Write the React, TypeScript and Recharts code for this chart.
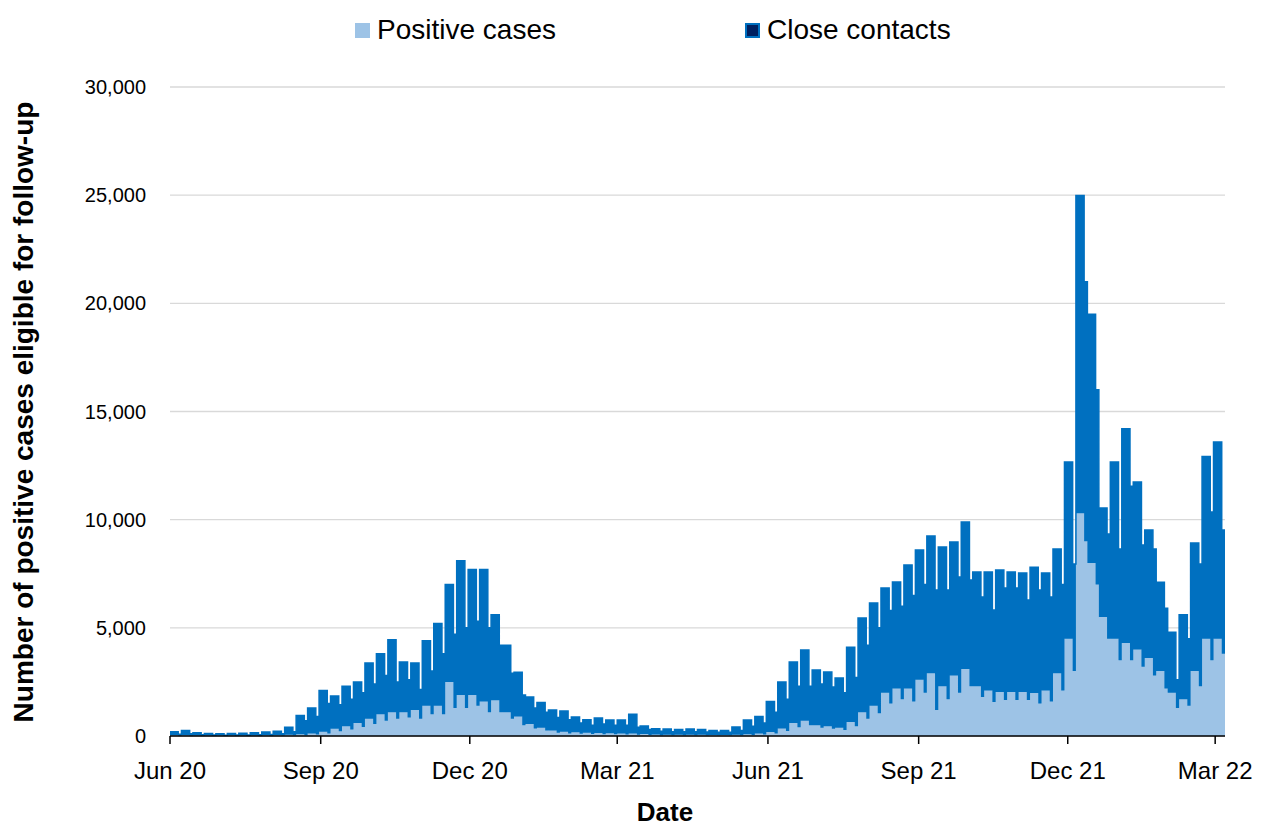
import React from "react";
import { AreaChart, Area, XAxis, YAxis, CartesianGrid, Label } from "recharts";

// Weekly readings (week 0 = week starting Mon 1 Jun 2020).
// "Weekday" = Mon–Fri level, "Weekend" = Sat–Sun level.
const POSITIVE_WEEKDAY = [
  30, 30, 20, 20, 20, 20, 20, 20, 30, 40,
  60, 80, 120, 200, 330, 450, 600, 800, 1000, 1100,
  1100, 1200, 1400, 1400, 2500, 1900, 1900, 1600, 1650, 1100,
  900, 550, 380, 250, 200, 170, 150, 140, 130, 120,
  110, 90, 70, 60, 60, 60, 60, 50, 50, 60,
  80, 120, 180, 350, 600, 700, 500, 450, 380, 650,
  1100, 1400, 2000, 2200, 2200, 2600, 2900, 2300, 2800, 3100,
  2300, 2100, 2030, 2030, 2030, 1990, 2100, 2900, 4500, 10300,
  8000, 5500, 4500, 4300, 4000, 3600, 3000, 2000, 1700, 3000,
  4500, 4500,
];
const POSITIVE_WEEKEND = [
  10, 10, 10, 10, 10, 10, 10, 10, 10, 20,
  30, 40, 70, 120, 220, 300, 420, 550, 700, 800,
  850, 800, 1000, 1000, 1300, 1300, 1400, 1100, 1100, 800,
  500, 350, 250, 150, 120, 100, 90, 80, 80, 70,
  60, 50, 40, 40, 40, 40, 40, 30, 30, 40,
  50, 70, 120, 230, 400, 500, 380, 330, 280, 450,
  800, 1050, 1500, 1700, 1600, 2000, 1200, 1700, 2000, 2300,
  1800, 1570, 1660, 1660, 1660, 1500, 1600, 2100, 3000, 9000,
  7000, 4500, 3500, 3500, 3200, 2800, 2200, 1300, 1400, 2300,
  3500, 3800,
];
const CONTACTS_WEEKDAY = [
  170, 220, 130, 100, 80, 100, 110, 130, 150, 180,
  340, 870, 1180, 1900, 1520, 1850, 1900, 2570, 2800, 3350,
  2320, 2170, 3000, 3800, 4500, 6200, 5800, 6100, 3950, 3100,
  2050, 1250, 1170, 950, 950, 710, 600, 690, 610, 620,
  890, 370, 260, 260, 240, 260, 240, 200, 200, 360,
  660, 780, 1420, 2150, 2820, 3270, 2550, 2510, 2300, 3450,
  4350, 4750, 4840, 4920, 5700, 6000, 6340, 6440, 6170, 6790,
  5280, 5480, 5640, 5550, 5500, 5810, 5430, 5740, 8160, 14680,
  11500, 5040, 8160, 9900, 7740, 5920, 4110, 2800, 3900, 5920,
  8420, 9090,
];
const CONTACTS_WEEKEND = [
  70, 90, 50, 40, 30, 40, 40, 50, 60, 80,
  170, 660, 830, 1380, 1230, 1400, 1580, 1850, 2100, 1700,
  1750, 1350, 2000, 2800, 3400, 3700, 3900, 3900, 3100, 2100,
  1400, 950, 850, 700, 630, 500, 410, 470, 420, 430,
  340, 250, 180, 160, 160, 160, 150, 140, 140, 210,
  400, 530, 980, 1470, 1900, 1800, 2020, 1940, 1720, 2250,
  3400, 3950, 4300, 4300, 4900, 5000, 5550, 5050, 5350, 4910,
  4630, 4250, 5180, 5180, 4630, 5250, 4820, 4900, 4950, 12000,
  9000, 4840, 5140, 8050, 5630, 5840, 3700, 1300, 3100, 5650,
  6850, 5720,
];

const TICK_DAYS = [0, 92, 183, 273, 365, 457, 548, 638];
const TICK_LABELS = ["Jun 20", "Sep 20", "Dec 20", "Mar 21", "Jun 21", "Sep 21", "Dec 21", "Mar 22"];
const Y_TICKS = [0, 5000, 10000, 15000, 20000, 25000, 30000];
const LAST_DAY = 644;

const data: { day: number; positive: number; contacts: number }[] = [];
POSITIVE_WEEKDAY.forEach((_, i) => {
  data.push({ day: i * 7, positive: POSITIVE_WEEKDAY[i], contacts: CONTACTS_WEEKDAY[i] });
  data.push({ day: i * 7 + 5, positive: POSITIVE_WEEKEND[i], contacts: CONTACTS_WEEKEND[i] });
});
{
  const n = POSITIVE_WEEKEND.length - 1;
  data.push({ day: LAST_DAY, positive: POSITIVE_WEEKEND[n], contacts: CONTACTS_WEEKEND[n] });
}

const LIGHT = "#9DC3E6";
const DARK = "#0070C0";
const FONT = "'Liberation Sans', Arial, sans-serif";

export default function App() {
  const W = 1259;
  const H = 820;
  return (
    <div style={{ position: "relative", width: W, height: H, fontFamily: FONT, background: "#fff" }}>
      <div style={{ position: "absolute", left: 347, top: 5, display: "flex", alignItems: "center", fontSize: 28, color: "#000", lineHeight: "34px" }}>
        <span style={{ display: "inline-block", width: 15, height: 15, background: LIGHT, marginRight: 7 }} />
        <span>Positive cases</span>
      </div>
      <div style={{ position: "absolute", left: 737, top: 5, display: "flex", alignItems: "center", fontSize: 28, color: "#000", lineHeight: "34px" }}>
        <span style={{ display: "inline-block", width: 11, height: 11, background: "#002060", border: `2px solid ${DARK}`, marginRight: 7 }} />
        <span>Close contacts</span>
      </div>
      <AreaChart width={W} height={H} data={data} margin={{ top: 79, right: 42, bottom: 42, left: 62 }}>
        <CartesianGrid vertical={false} stroke="#D9D9D9" strokeWidth={1.3} />
        <XAxis
          type="number"
          dataKey="day"
          domain={[0, LAST_DAY]}
          ticks={TICK_DAYS}
          tickFormatter={(v: number) => TICK_LABELS[TICK_DAYS.indexOf(v)] ?? ""}
          allowDataOverflow
          interval={0}
          height={50}
          stroke="#000"
          strokeWidth={1.5}
          tickSize={8}
          tickMargin={18}
          tick={{ fill: "#000", fontSize: 24, fontFamily: FONT }}
        >
          <Label
            content={() => (
              <text x={657} y={813} textAnchor="middle" fontFamily={FONT} fontWeight="bold" fontSize={26} fill="#000">
                Date
              </text>
            )}
          />
        </XAxis>
        <YAxis
          type="number"
          domain={[0, 30000]}
          ticks={Y_TICKS}
          interval={0}
          axisLine={false}
          tickLine={false}
          width={100}
          tickSize={6}
          tickMargin={18}
          tickFormatter={(v: number) => v.toLocaleString("en-US")}
          tick={{ fill: "#000", fontSize: 20, fontFamily: FONT }}
        >
          <Label
            content={() => (
              <text
                x={15}
                y={404}
                transform="rotate(-90, 15, 404)"
                textAnchor="middle"
                dominantBaseline="central"
                fontFamily={FONT}
                fontWeight="bold"
                fontSize={28}
                fill="#000"
              >
                Number of positive cases eligible for follow-up
              </text>
            )}
          />
        </YAxis>
        <Area
          type="stepAfter"
          dataKey="positive"
          stackId="1"
          fill={LIGHT}
          stroke={LIGHT}
          strokeWidth={1}
          fillOpacity={1}
          isAnimationActive={false}
        />
        <Area
          type="stepAfter"
          dataKey="contacts"
          stackId="1"
          fill={DARK}
          stroke={DARK}
          strokeWidth={1.5}
          fillOpacity={1}
          isAnimationActive={false}
        />
      </AreaChart>
    </div>
  );
}
